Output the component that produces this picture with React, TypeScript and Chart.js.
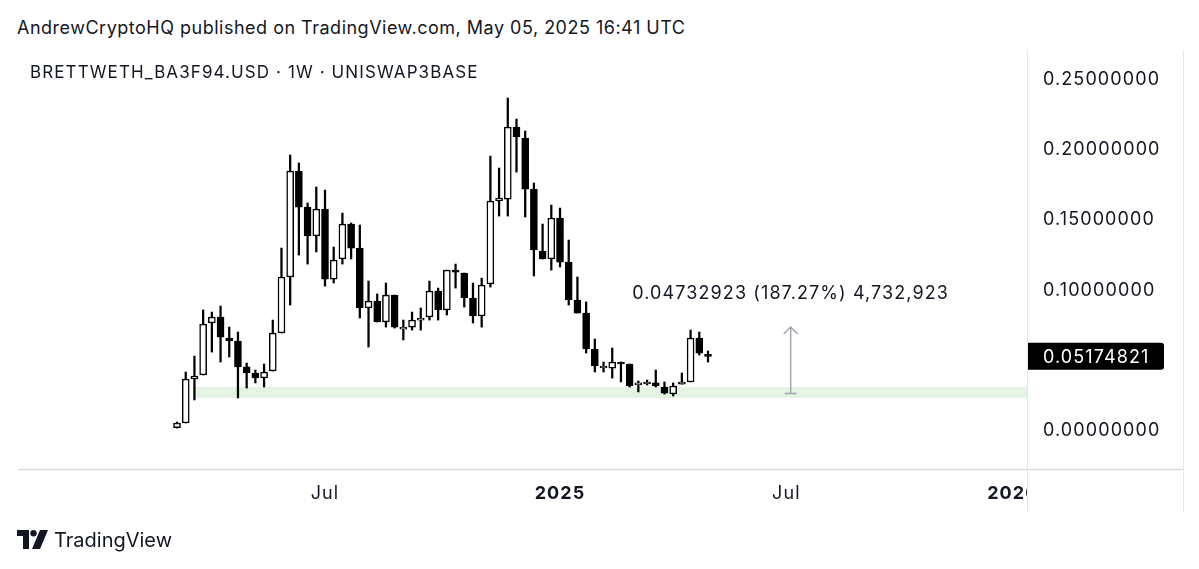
import React, { useEffect, useRef } from 'react';
import { Chart, registerables } from 'chart.js';

Chart.register(...registerables);

// Weekly candles, first week starts 2024-03-04 (index 0)
const opens = [
  0.0010, 0.0043, 0.0356, 0.0385, 0.0755, 0.0798, 0.0648, 0.0627, 0.0442, 0.0399,
  0.0363, 0.0413, 0.0684, 0.1083, 0.1838, 0.1581, 0.1375, 0.1567, 0.1068, 0.1211,
  0.1460, 0.1289, 0.0862, 0.0912, 0.0762, 0.0954, 0.0726, 0.0726, 0.0776, 0.0798,
  0.0983, 0.0848, 0.1132, 0.1111, 0.0933, 0.0805, 0.1033, 0.1624, 0.1638, 0.2151,
  0.2073, 0.1709, 0.1268, 0.1211, 0.1503, 0.1189, 0.0919, 0.0826, 0.0570, 0.0449,
  0.0434, 0.0477, 0.0463, 0.0328, 0.0335, 0.0328, 0.0299, 0.0249, 0.0320, 0.0335,
  0.0648, 0.0527,
];
const highs = [
  0.0050, 0.0406, 0.0520, 0.0848, 0.0833, 0.0876, 0.0726, 0.0691, 0.0470, 0.0420,
  0.0463, 0.0776, 0.1289, 0.1952, 0.1895, 0.1610, 0.1724, 0.1702, 0.1296, 0.1538,
  0.1467, 0.1453, 0.1054, 0.0962, 0.1040, 0.0954, 0.0776, 0.0833, 0.0862, 0.1054,
  0.1004, 0.1132, 0.1175, 0.1111, 0.1040, 0.1075, 0.1944, 0.1859, 0.2358, 0.2208,
  0.2123, 0.1752, 0.1460, 0.1595, 0.1574, 0.1346, 0.1083, 0.0905, 0.0641, 0.0477,
  0.0577, 0.0477, 0.0463, 0.0342, 0.0349, 0.0420, 0.0335, 0.0328, 0.0399, 0.0705,
  0.0691, 0.0556,
];
const lows = [
  0.0007, 0.0043, 0.0207, 0.0385, 0.0548, 0.0477, 0.0513, 0.0221, 0.0292, 0.0328,
  0.0299, 0.0413, 0.0684, 0.0883, 0.1239, 0.1175, 0.1261, 0.1018, 0.1040, 0.1175,
  0.1211, 0.0791, 0.0584, 0.0762, 0.0726, 0.0719, 0.0634, 0.0705, 0.0705, 0.0776,
  0.0776, 0.0812, 0.1004, 0.0869, 0.0755, 0.0726, 0.1011, 0.1517, 0.1517, 0.1830,
  0.1510, 0.1090, 0.1211, 0.1132, 0.1154, 0.0883, 0.0826, 0.0541, 0.0406, 0.0406,
  0.0363, 0.0335, 0.0299, 0.0264, 0.0313, 0.0299, 0.0249, 0.0235, 0.0320, 0.0335,
  0.0527, 0.0477,
];
const closes = [
  0.0043, 0.0356, 0.0377, 0.0748, 0.0798, 0.0655, 0.0627, 0.0442, 0.0399, 0.0363,
  0.0406, 0.0684, 0.1083, 0.1838, 0.1581, 0.1375, 0.1567, 0.1068, 0.1204, 0.1460,
  0.1289, 0.0862, 0.0912, 0.0762, 0.0954, 0.0726, 0.0726, 0.0776, 0.0790, 0.0983,
  0.0848, 0.1132, 0.1118, 0.0933, 0.0805, 0.1026, 0.1624, 0.1645, 0.2151, 0.2080,
  0.1709, 0.1275, 0.1211, 0.1503, 0.1189, 0.0919, 0.0826, 0.0570, 0.0449, 0.0449,
  0.0477, 0.0463, 0.0306, 0.0328, 0.0335, 0.0306, 0.0256, 0.0306, 0.0335, 0.0648,
  0.0541, 0.0517,
];

const tickWeeks = [17, 44, 70, 96];
const tickLabels = ['Jul', '2025', 'Jul', '2026'];
const yTicks = [0, 0.1, 0.15, 0.2, 0.25];
const lastPrice = 0.05174821;
const zoneLow = 0.0221;
const zoneHigh = 0.0299;
const zoneStartWeek = 2;
const measureWeek = 70.5;
const measureFrom = 0.0253;
const measureTo = 0.0726;
const measureText = '0.04732923 (187.27%) 4,732,923';

const FONT = 'Inter, "Noto Sans", sans-serif';

const overlay = {
  id: 'tvOverlay',
  beforeDraw(chart: any) {
    (chart.ctx as any).letterSpacing = '1.1px';
  },
  beforeDatasetsDraw(chart: any) {
    const { ctx, chartArea, scales } = chart;
    const x = scales.x, y = scales.y;
    ctx.save();
    const x0 = x.getPixelForValue(zoneStartWeek);
    const yt = y.getPixelForValue(zoneHigh);
    const yb = y.getPixelForValue(zoneLow);
    ctx.fillStyle = 'rgba(120, 195, 120, 0.2)';
    ctx.fillRect(x0, yt, chartArea.right - x0, yb - yt);
    ctx.restore();
  },
  afterDatasetsDraw(chart: any) {
    const { ctx, scales } = chart;
    const x = scales.x, y = scales.y;
    ctx.save();
    const ax = x.getPixelForValue(measureWeek);
    const ay0 = y.getPixelForValue(measureFrom);
    const ay1 = y.getPixelForValue(measureTo);
    ctx.strokeStyle = '#a3a6ad';
    ctx.lineWidth = 1.5;
    ctx.beginPath();
    ctx.moveTo(ax, ay0);
    ctx.lineTo(ax, ay1);
    ctx.moveTo(ax - 6, ay0);
    ctx.lineTo(ax + 6, ay0);
    ctx.moveTo(ax - 7, ay1 + 7);
    ctx.lineTo(ax, ay1);
    ctx.lineTo(ax + 7, ay1 + 7);
    ctx.stroke();
    ctx.fillStyle = '#131722';
    ctx.font = `18px ${FONT}`;
    (ctx as any).letterSpacing = '1.1px';
    ctx.textAlign = 'center';
    ctx.textBaseline = 'middle';
    ctx.fillText(measureText, ax, y.getPixelForValue(0.0962));
    ctx.restore();
  },
  afterDraw(chart: any) {
    const { ctx, chartArea, scales } = chart;
    const y = scales.y;
    ctx.save();
    // cover time-axis overflow under the price scale
    ctx.fillStyle = '#ffffff';
    ctx.fillRect(chartArea.right + 1, chartArea.bottom + 1, 200, 42);
    // borders
    ctx.strokeStyle = '#dadbdf';
    ctx.lineWidth = 1.5;
    ctx.beginPath();
    ctx.moveTo(chartArea.left, chartArea.bottom + 0.5);
    ctx.lineTo(1183, chartArea.bottom + 0.5);
    ctx.stroke();
    ctx.strokeStyle = '#e6e7ea';
    ctx.lineWidth = 1;
    ctx.beginPath();
    ctx.moveTo(chartArea.right + 0.5, chartArea.top);
    ctx.lineTo(chartArea.right + 0.5, chartArea.bottom + 43);
    ctx.moveTo(1183.5, chartArea.top);
    ctx.lineTo(1183.5, chartArea.bottom + 43);
    ctx.stroke();
    // last price label
    const py = y.getPixelForValue(lastPrice);
    ctx.fillStyle = '#000000';
    const bx = chartArea.right + 1, bw = 136, bh = 27;
    ctx.beginPath();
    (ctx as any).roundRect(bx, py - bh / 2, bw, bh, [0, 3, 3, 0]);
    ctx.fill();
    ctx.fillStyle = '#ffffff';
    ctx.font = `18px ${FONT}`;
    (ctx as any).letterSpacing = '1.1px';
    ctx.textAlign = 'left';
    ctx.textBaseline = 'middle';
    ctx.fillText(lastPrice.toFixed(8), chartArea.right + 16, py + 1);
    ctx.restore();
  },
};

export default function App() {
  const ref = useRef<HTMLCanvasElement | null>(null);

  useEffect(() => {
    if (!ref.current) return;
    const bodies = opens.map((o, i) => ({ x: i, y: [o, closes[i]] }));
    const wicks = lows.map((l, i) => ({ x: i, y: [l, highs[i]] }));
    const chart = new Chart(ref.current, {
      type: 'bar',
      data: {
        datasets: [
          {
            label: 'body',
            data: bodies as any,
            backgroundColor: opens.map((o, i) => (closes[i] >= o ? '#ffffff' : '#000000')),
            borderColor: '#000000',
            borderWidth: 1.5,
            borderSkipped: false,
            barThickness: 7,
            minBarLength: 2,
            grouped: false,
          } as any,
          {
            label: 'wick',
            data: wicks as any,
            backgroundColor: '#000000',
            borderWidth: 0,
            barThickness: 1.6,
            grouped: false,
          } as any,
        ],
      },
      options: {
        animation: false,
        responsive: false,
        devicePixelRatio: 1,
        layout: { padding: { left: 18, top: 50, right: 0, bottom: 57 } },
        plugins: { legend: { display: false }, tooltip: { enabled: false }, title: { display: false } },
        scales: {
          x: {
            type: 'linear',
            min: -18.27,
            max: 97.65,
            offset: false,
            grid: { display: false, drawTicks: false },
            border: { display: false },
            afterBuildTicks: (s: any) => {
              s.ticks = tickWeeks.map((v) => ({ value: v }));
            },
            afterFit: (s: any) => {
              s.height = 43;
            },
            ticks: {
              autoSkip: false,
              maxRotation: 0,
              padding: 14,
              color: '#131722',
              font: (c: any) => {
                const k = tickWeeks.indexOf(c.tick ? c.tick.value : -1);
                const bold = k >= 0 && /^\d+$/.test(tickLabels[k]);
                return { family: FONT, size: 18, weight: bold ? 'bold' : 'normal' } as any;
              },
              callback: (v: any) => {
                const k = tickWeeks.indexOf(Number(v));
                return k >= 0 ? tickLabels[k] : '';
              },
            },
          },
          y: {
            type: 'linear',
            position: 'right',
            min: -0.0285,
            max: 0.27,
            grid: { display: false, drawTicks: false },
            border: { display: false },
            afterBuildTicks: (s: any) => {
              s.ticks = yTicks.map((v) => ({ value: v }));
            },
            afterFit: (s: any) => {
              s.width = 172;
            },
            ticks: {
              padding: 16,
              labelOffset: 1.5,
              color: '#131722',
              font: { family: FONT, size: 18 },
              callback: (v: any) => Number(v).toFixed(8),
            },
          },
        },
      },
      plugins: [overlay],
    });
    return () => chart.destroy();
  }, []);

  return (
    <div style={{ position: 'fixed', left: 0, top: 0, width: 1199, height: 569, background: '#ffffff', overflow: 'hidden' }}>
      <div style={{ position: 'absolute', left: 17, top: 17, fontFamily: FONT, fontSize: 18, letterSpacing: '0.5px', lineHeight: '22px', color: '#131722', whiteSpace: 'nowrap' }}>
        AndrewCryptoHQ published on TradingView.com, May 05, 2025 16:41 UTC
      </div>
      <canvas ref={ref} width={1199} height={569} style={{ position: 'absolute', left: 0, top: 0 }} />
      <div style={{ position: 'absolute', left: 30, top: 61, fontFamily: FONT, fontSize: 17, letterSpacing: '1.1px', lineHeight: '22px', color: '#131722', whiteSpace: 'nowrap' }}>
        BRETTWETH_BA3F94.USD · 1W · UNISWAP3BASE
      </div>
      <div style={{ position: 'absolute', left: 17, top: 529, display: 'flex', alignItems: 'center', gap: 6 }}>
        <svg width="31" height="20" viewBox="0 0 31 20">
          <path d="M0 0 H12 V19 H6 V6 H0 Z" fill="#131722" />
          <circle cx="16.5" cy="3.2" r="3.2" fill="#131722" />
          <path d="M23 0 H31 L23 19 H15 Z" fill="#131722" />
        </svg>
        <span style={{ fontFamily: FONT, fontSize: 20, lineHeight: '22px', color: '#131722' }}>TradingView</span>
      </div>
    </div>
  );
}
